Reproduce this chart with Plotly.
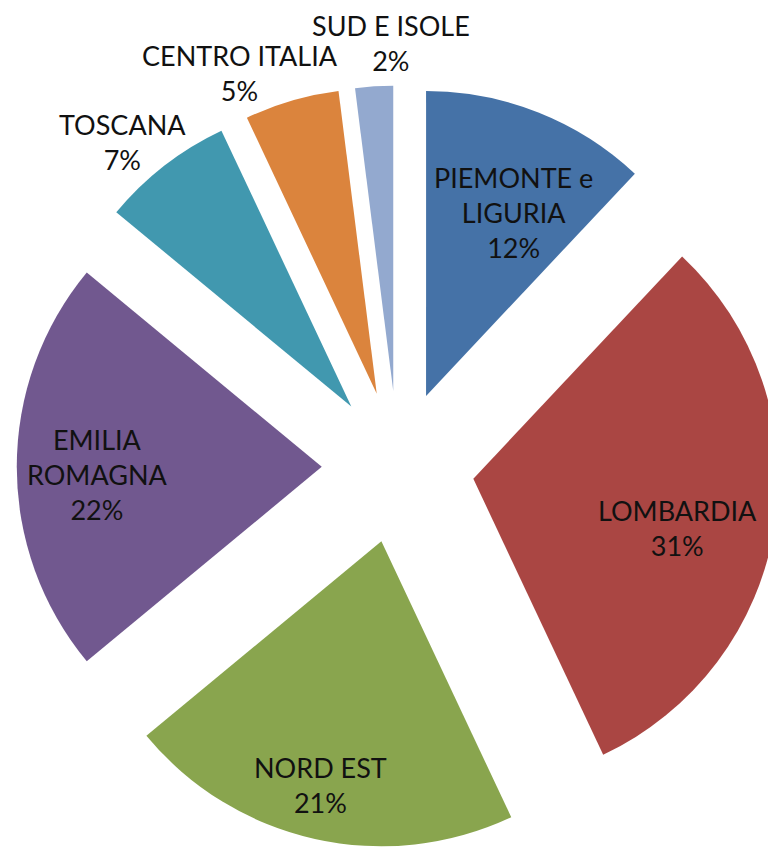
import math
import plotly.graph_objects as go

labels = ["PIEMONTE e LIGURIA", "LOMBARDIA", "NORD EST", "EMILIA ROMAGNA",
          "TOSCANA", "CENTRO ITALIA", "SUD E ISOLE"]
display = ["PIEMONTE e<br>LIGURIA", "LOMBARDIA", "NORD EST", "EMILIA<br>ROMAGNA",
           "TOSCANA", "CENTRO ITALIA", "SUD E ISOLE"]
values = [12, 31, 21, 22, 7, 5, 2]
colors = ["#4572A7", "#AA4643", "#89A54E", "#71588F", "#4198AF", "#DB843D", "#93A9CF"]

# label placement (fraction of radius from the pulled slice apex, angular nudge in degrees)
label_r = [0.666, 0.690, 0.824, 0.737, 1.146, 1.143, 1.141]
label_dtheta = [4.0, 4.5, 1.5, -2.0, -3.0, -6.9, 3.2]

W, H = 776, 851
PULL = 0.25
DOM_X = [0.0113, 0.9939]
DOM_Y = [0.0126, 0.9090]

fig = go.Figure(go.Pie(
    labels=labels, values=values,
    textinfo="none",
    sort=False, direction="clockwise", rotation=0,
    pull=[PULL] * len(values),
    marker=dict(colors=colors, line=dict(width=0)),
    showlegend=False,
    automargin=False,
    hoverinfo="label+percent",
    domain=dict(x=DOM_X, y=DOM_Y),
))

# pie geometry as plotly computes it (pixels from the figure's top-left)
box_w = W * (DOM_X[1] - DOM_X[0])
box_h = H * (DOM_Y[1] - DOM_Y[0])
r = min(box_w, box_h) / (2 + 2 * PULL)
cx = W * (DOM_X[0] + DOM_X[1]) / 2
cy = H * (1 - DOM_Y[0]) - box_h / 2

total = sum(values)
cum = 0.0
annotations = []
for i, v in enumerate(values):
    mid = (cum + v / 2) / total * 360.0
    cum += v
    a = math.radians(mid)
    ax = cx + PULL * r * math.sin(a)
    ay = cy - PULL * r * math.cos(a)
    b = math.radians(mid + label_dtheta[i])
    px = ax + label_r[i] * r * math.sin(b)
    py = ay - label_r[i] * r * math.cos(b)
    pct = round(v / total * 100)
    annotations.append(dict(
        x=px / W, y=1 - py / H, xref="paper", yref="paper",
        text=f"{display[i]}<br>{pct}%", showarrow=False,
        xanchor="center", yanchor="middle", align="center",
        font=dict(family="Lato, Calibri, sans-serif", size=27, color="#111111"),
    ))

fig.update_layout(
    width=W, height=H,
    margin=dict(l=0, r=0, t=0, b=0),
    paper_bgcolor="white",
    plot_bgcolor="white",
    annotations=annotations,
)
fig.write_html("out.html")
